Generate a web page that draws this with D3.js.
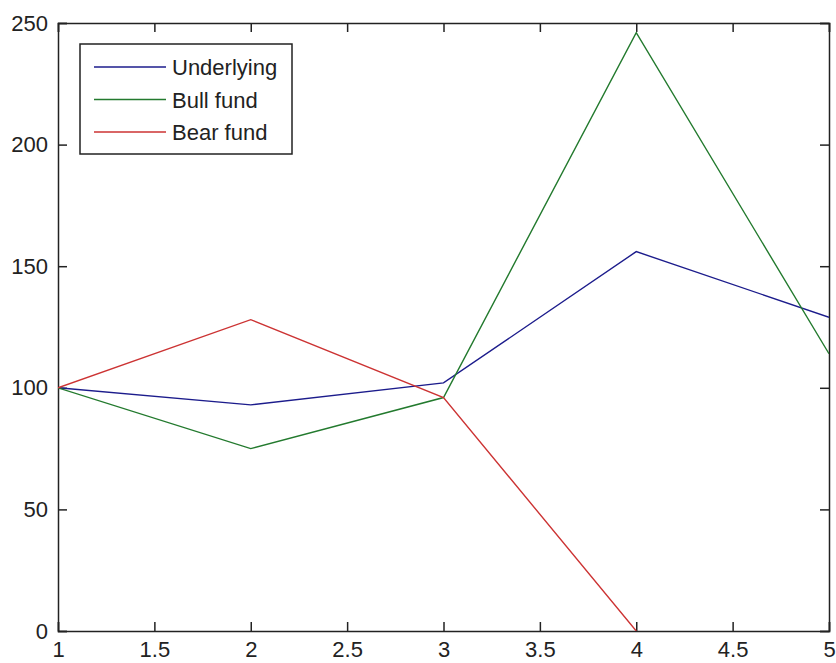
<!DOCTYPE html>
<html>
<head>
<meta charset="utf-8">
<script src="https://cdn.jsdelivr.net/npm/d3@7"></script>
<style>
  body { margin: 0; background: #fff; }
  text { font-family: "Liberation Sans", Arial, sans-serif; fill: #222; }
</style>
</head>
<body>
<div class="chart"></div>
<script>
const width = 836
const height = 663

// data
const xs = [1, 2, 3, 4, 5]
const underlying = [100, 93, 102, 156, 129]
const bullFund = [100, 75, 96, 246, 114]
const bearFund = [100, 128, 96, 0, null]
const seriesNames = ['Underlying', 'Bull fund', 'Bear fund']
const xTicks = [1, 1.5, 2, 2.5, 3, 3.5, 4, 4.5, 5]
const yTicks = [0, 50, 100, 150, 200, 250]

const colors = ['#1c1c8c', '#237a2e', '#cc3333']

const margin = { left: 58, right: 7, top: 23, bottom: 32 }

const svg = d3.select('.chart').append('svg').attr('width', width).attr('height', height)

const x = d3.scaleLinear().domain([1, 5]).range([margin.left, width - margin.right])
const y = d3.scaleLinear().domain([0, 250]).range([height - margin.bottom, margin.top])

const tickLen = 9

// axes with inward ticks on all four sides
svg.append('g')
    .attr('transform', `translate(0,${y(0)})`)
    .call(d3.axisBottom(x).tickValues(xTicks).tickSize(-tickLen).tickPadding(10).tickFormat(d3.format('')))
svg.append('g')
    .attr('transform', `translate(0,${y(250)})`)
    .call(d3.axisTop(x).tickValues(xTicks).tickSize(-tickLen).tickFormat(''))
svg.append('g')
    .attr('transform', `translate(${x(1)},0)`)
    .call(d3.axisLeft(y).tickValues(yTicks).tickSize(-tickLen).tickPadding(10))
svg.append('g')
    .attr('transform', `translate(${x(5)},0)`)
    .call(d3.axisRight(y).tickValues(yTicks).tickSize(-tickLen).tickFormat(''))

svg.selectAll('.domain').attr('stroke', '#222').attr('stroke-width', 1.5)
svg.selectAll('.tick line').attr('stroke', '#222').attr('stroke-width', 1.5)
svg.selectAll('.tick text').style('font-size', '22px').attr('fill', '#222')

// clip lines to plot area
svg.append('clipPath').attr('id', 'plotClip')
    .append('rect')
    .attr('x', x(1)).attr('y', y(250))
    .attr('width', x(5) - x(1)).attr('height', y(0) - y(250))

const line = d3.line()
    .defined(d => d[1] !== null)
    .x(d => x(d[0]))
    .y(d => y(d[1]))

const allSeries = [underlying, bullFund, bearFund]

svg.append('g').attr('clip-path', 'url(#plotClip)')
    .selectAll('path')
    .data(allSeries)
    .enter()
    .append('path')
    .attr('d', d => line(xs.map((v, i) => [v, d[i]])))
    .attr('fill', 'none')
    .attr('stroke', (d, i) => colors[i])
    .attr('stroke-width', 1.4)

// legend
const legend = svg.append('g').attr('transform', 'translate(80,44)')
legend.append('rect')
    .attr('width', 212).attr('height', 110)
    .attr('fill', '#fff').attr('stroke', '#222').attr('stroke-width', 1.5)

const legendItems = legend.selectAll('.legend-item')
    .data(seriesNames)
    .enter()
    .append('g')
    .attr('class', 'legend-item')
    .attr('transform', (d, i) => `translate(0,${23 + i * 32.5})`)

legendItems.append('line')
    .attr('x1', 14).attr('x2', 86)
    .attr('stroke', (d, i) => colors[i])
    .attr('stroke-width', 1.4)

legendItems.append('text')
    .attr('x', 92)
    .attr('y', 8)
    .style('font-size', '22px')
    .text(d => d)
</script>
</body>
</html>
